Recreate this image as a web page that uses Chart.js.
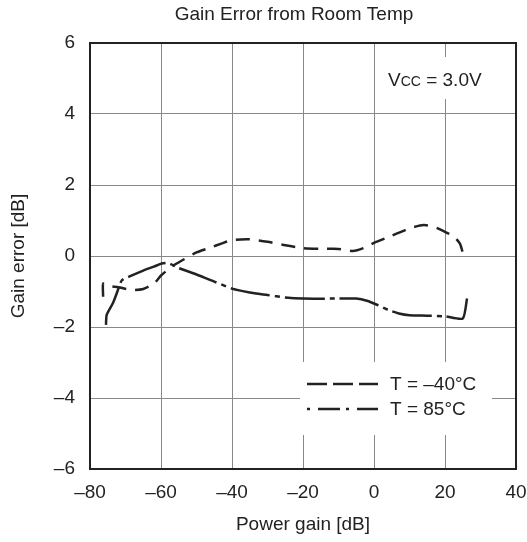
<!DOCTYPE html>
<html>
<head>
<meta charset="utf-8">
<script src="https://cdn.jsdelivr.net/npm/chart.js@4"></script>
<style>
  body { margin: 0; background: #fff; }
  #wrap { width: 527px; height: 542px; }
</style>
</head>
<body>
<div id="wrap"><canvas id="chart" width="527" height="542"></canvas></div>
<script>
// power gain [dB] / gain error [dB]
const gainCold = [-76.3, -76.3, -75, -72, -68, -65, -62, -60, -57, -54, -50, -46, -43, -40, -35, -30, -25, -20, -15, -10, -6, -3, 0, 5, 10, 14, 17, 20, 22.5, 24.2, 25]
const errCold = [-1.15, -0.78, -0.84, -0.88, -0.96, -0.93, -0.78, -0.55, -0.3, -0.12, 0.1, 0.24, 0.35, 0.45, 0.47, 0.4, 0.3, 0.22, 0.2, 0.2, 0.14, 0.22, 0.37, 0.57, 0.78, 0.87, 0.82, 0.68, 0.55, 0.35, 0.1]

const gainHot = [-75.5, -75.3, -73.5, -71.8, -71, -68.5, -65, -62, -60, -58, -55, -50, -45, -40, -35, -30, -25, -20, -10, -5, -2, 1, 4, 7, 10, 15, 20, 25, 26.2]
const errHot = [-1.94, -1.66, -1.32, -0.87, -0.68, -0.56, -0.41, -0.3, -0.22, -0.2, -0.34, -0.52, -0.72, -0.92, -1.03, -1.1, -1.17, -1.2, -1.2, -1.2, -1.26, -1.38, -1.52, -1.62, -1.67, -1.68, -1.7, -1.76, -1.2]

const xTicks = [-80, -60, -40, -20, 0, 20, 40]
const yTicks = [-6, -4, -2, 0, 2, 4, 6]
const seriesNames = ['T = \u201340\u00b0C', 'T = 85\u00b0C']
const chartTitle = 'Gain Error from Room Temp'

const FONT = "'Liberation Sans', Arial, sans-serif"
const INK = '#222'

const toPoints = (xs, ys) => xs.map((x, i) => ({ x, y: ys[i] }))
const fmt = v => (v < 0 ? '\u2013' + Math.abs(v) : String(v))

const extras = {
  id: 'extras',
  beforeDatasetsDraw(chart) {
    const { ctx, chartArea: a } = chart
    ctx.save()
    ctx.fillStyle = '#fff'
    // white boxes under the notes, hiding the grid
    ctx.fillRect(380, 57, a.right - 381, 42)
    ctx.fillRect(300, 362, 192, 73)
    ctx.restore()
  },
  afterDatasetsDraw(chart) {
    const { ctx, chartArea: a } = chart
    ctx.save()
    ctx.strokeStyle = INK
    ctx.lineWidth = 2
    ctx.strokeRect(a.left, a.top, a.right - a.left, a.bottom - a.top)

    ctx.fillStyle = INK
    // title, sits a bit left of the plot centre
    ctx.font = '19px ' + FONT
    ctx.textAlign = 'center'
    ctx.textBaseline = 'middle'
    ctx.fillText(chartTitle, 294, 15)
    ctx.textAlign = 'left'

    // Vcc note
    ctx.textBaseline = 'alphabetic'
    let x = 388
    ctx.fillText('V', x, 86)
    x += ctx.measureText('V').width
    ctx.font = '14px ' + FONT
    ctx.fillText('CC', x, 86)
    x += ctx.measureText('CC').width
    ctx.font = '19px ' + FONT
    ctx.fillText(' = 3.0V', x, 86)

    // legend
    const rows = [{ y: 384, dash: [20, 6] }, { y: 409, dash: [3, 8, 22, 6] }]
    rows.forEach((r, i) => {
      ctx.setLineDash(r.dash)
      ctx.lineWidth = 2.5
      ctx.beginPath()
      ctx.moveTo(307, r.y)
      ctx.lineTo(378, r.y)
      ctx.stroke()
      ctx.setLineDash([])
      ctx.textBaseline = 'middle'
      ctx.fillText(seriesNames[i], 390, r.y + 1)
    })
    ctx.restore()
  }
}

new Chart(document.getElementById('chart'), {
  type: 'scatter',
  data: {
    datasets: [{
      label: seriesNames[0],
      data: toPoints(gainCold, errCold),
      showLine: true,
      borderColor: INK,
      borderWidth: 2.5,
      borderDash: [14, 9],
      pointRadius: 0,
      tension: 0.2
    }, {
      label: seriesNames[1],
      data: toPoints(gainHot, errHot),
      showLine: true,
      borderColor: INK,
      borderWidth: 2.5,
      borderDash: [40, 5, 5, 5],
      pointRadius: 0,
      tension: 0.2
    }]
  },
  options: {
    responsive: false,
    animation: false,
    layout: { padding: { top: 43, left: 0, right: 0, bottom: 0 } },
    plugins: {
      legend: { display: false },
      tooltip: { enabled: false },
      title: { display: false }
    },
    scales: {
      x: {
        type: 'linear',
        min: -80,
        max: 40,
        afterFit: s => { s.height = 73; s.paddingLeft = 0; s.paddingRight = 11 },
        afterBuildTicks: s => { s.ticks = xTicks.map(v => ({ value: v })) },
        ticks: { color: INK, padding: 12, font: { family: FONT, size: 19 }, callback: fmt },
        grid: { color: '#888', lineWidth: 1, drawTicks: false },
        border: { display: false },
        title: {
          display: true, text: 'Power gain [dB]', color: INK,
          font: { family: FONT, size: 19 }, padding: { top: 0, bottom: 6 }
        }
      },
      y: {
        type: 'linear',
        min: -6,
        max: 6,
        afterFit: s => { s.width = 90 },
        afterBuildTicks: s => { s.ticks = yTicks.map(v => ({ value: v })) },
        ticks: { color: INK, padding: 15, font: { family: FONT, size: 19 }, callback: fmt },
        grid: { color: '#888', lineWidth: 1, drawTicks: false },
        border: { display: false },
        title: {
          display: true, text: 'Gain error [dB]', color: INK,
          font: { family: FONT, size: 19 }, padding: { top: 7, bottom: 0 }
        }
      }
    }
  },
  plugins: [extras]
})
</script>
</body>
</html>
